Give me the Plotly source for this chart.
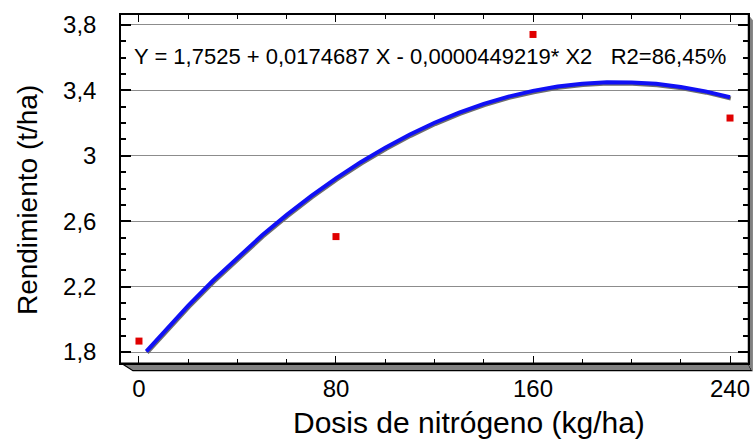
import plotly.graph_objects as go

# Observed data
dose_obs = [0, 80, 160, 240]
yield_obs = [1.867, 2.506, 3.742, 3.231]

# Fitted curve
dose_fit = [3, 10, 20, 30, 40, 50, 60, 70, 80, 90, 100, 110, 120, 130, 140,
            150, 160, 170, 180, 190, 200, 210, 220, 230, 240]
yield_fit = [1.804, 1.923, 2.084, 2.236, 2.379, 2.514, 2.639, 2.755, 2.862, 2.961,
             3.050, 3.130, 3.202, 3.264, 3.318, 3.362, 3.397, 3.424, 3.441, 3.450,
             3.449, 3.440, 3.421, 3.394, 3.358]

x_ticks = [0, 80, 160, 240]
y_ticks = [1.8, 2.2, 2.6, 3.0, 3.4, 3.8]

equation = "Y = 1,7525 + 0,0174687 X - 0,0000449219* X2   R2=86,45%"
x_title = "Dosis de nitrógeno (kg/ha)"
y_title = "Rendimiento (t/ha)"

XR = [-7.3, 247.3]
YR = [1.733, 3.861]
# pixel offsets for the line shadow
dx = (XR[1] - XR[0]) / 629 * 0.8
dy = (YR[1] - YR[0]) / 348 * 1.3

FONT = "Liberation Sans, Arial, sans-serif"

fig = go.Figure()
fig.add_trace(go.Scatter(x=dose_obs, y=yield_obs, mode="markers",
                         marker=dict(symbol="square", size=7, color="#E00000"),
                         showlegend=False))
fig.add_trace(go.Scatter(x=dose_fit, y=yield_fit, mode="lines",
                         line=dict(color="#6e6e6e", width=4),
                         xaxis="x2", yaxis="y2", hoverinfo="skip", showlegend=False))
fig.add_trace(go.Scatter(x=dose_fit, y=yield_fit, mode="lines",
                         line=dict(color="#1010F5", width=4),
                         xaxis="x3", yaxis="y3", showlegend=False))

axis_common = dict(showline=True, linecolor="black", linewidth=1.5, mirror="ticks",
                   ticks="inside", tickcolor="black", zeroline=False,
                   tickfont=dict(family=FONT, size=24, color="black"))

fig.update_layout(
    width=754, height=445,
    margin=dict(l=121, r=4, t=15, b=82),
    paper_bgcolor="white", plot_bgcolor="white",
    separators=", ",
    xaxis=dict(range=XR, tickvals=x_ticks, ticklen=7, tickwidth=1,
               showgrid=False,
               minor=dict(dtick=20, tick0=0, ticks="inside", ticklen=4, tickcolor="black"),
               ticklabelstandoff=3, **axis_common),
    yaxis=dict(range=YR, tickvals=y_ticks, ticklen=10, tickwidth=1.5,
               showgrid=True, gridcolor="#8c8c8c", gridwidth=1.2,
               minor=dict(dtick=0.1, tick0=1.8, ticks="inside", ticklen=5, tickcolor="black"),
               ticklabelstandoff=18, **axis_common),
    xaxis2=dict(range=[XR[0] - dx, XR[1] - dx], overlaying="x", visible=False),
    yaxis2=dict(range=[YR[0] + dy, YR[1] + dy], overlaying="y", visible=False),
    xaxis3=dict(range=XR, overlaying="x", visible=False),
    yaxis3=dict(range=YR, overlaying="y", visible=False),
    annotations=[
        dict(text=equation, xref="paper", yref="paper", x=0.017, y=0.882,
             xanchor="left", yanchor="middle", showarrow=False,
             font=dict(family=FONT, size=22, color="black")),
        dict(text=x_title, xref="paper", yref="paper",
             x=0.555, y=-0.172, xanchor="center", yanchor="middle", showarrow=False,
             font=dict(family=FONT, size=30, color="black")),
        dict(text=y_title, xref="paper", yref="paper",
             x=-0.15, y=0.468, xanchor="center", yanchor="middle", showarrow=False,
             textangle=-90, font=dict(family=FONT, size=28, color="black")),
    ],
    shapes=[
        # 3D shadow along bottom
        dict(type="path", xref="paper", yref="paper",
             path="M 0 0 L 1 0 L 1.006 -0.022 L 0.019 -0.022 Z",
             fillcolor="#808080", line=dict(color="black", width=1.2), layer="below"),
        # 3D shadow along right side
        dict(type="path", xref="paper", yref="paper",
             path="M 1 1 L 1.007 0.985 L 1.007 -0.022 L 1 0 Z",
             fillcolor="#808080", line=dict(color="#808080", width=1), layer="below"),
    ],
)

fig.write_html("out.html", config={"displayModeBar": False},
               post_script="document.body.style.margin='0px';")
